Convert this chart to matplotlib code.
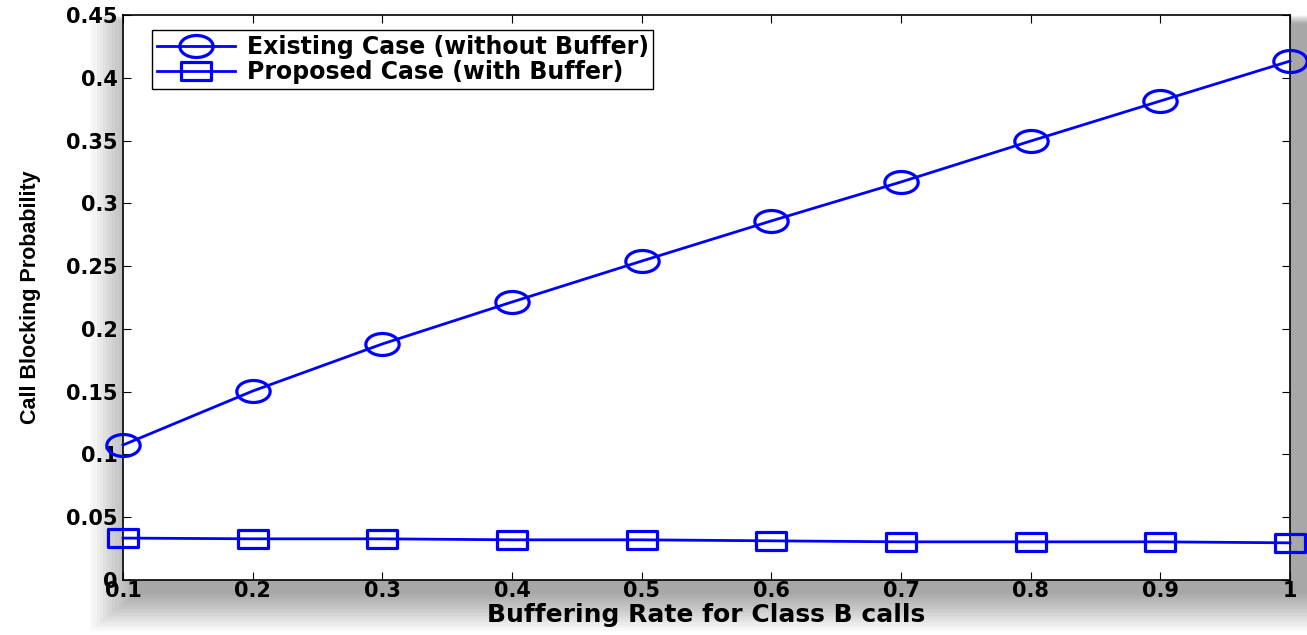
import numpy as np
import matplotlib.pyplot as plt
from matplotlib.path import Path
from matplotlib.patches import Rectangle

rate = [0.1, 0.2, 0.3, 0.4, 0.5, 0.6, 0.7, 0.8, 0.9, 1.0]
existing = [0.1075, 0.1505, 0.188, 0.2214, 0.254, 0.286, 0.317, 0.3496, 0.3815, 0.4133]
proposed = [0.0334, 0.0328, 0.0328, 0.0320, 0.0320, 0.0312, 0.0304, 0.0304, 0.0304, 0.0296]
xticks = [0.1, 0.2, 0.3, 0.4, 0.5, 0.6, 0.7, 0.8, 0.9, 1]
xticklabels = ['0.1', '0.2', '0.3', '0.4', '0.5', '0.6', '0.7', '0.8', '0.9', '1']
yticks = [0, 0.05, 0.1, 0.15, 0.2, 0.25, 0.3, 0.35, 0.4, 0.45]
yticklabels = ['0', '0.05', '0.1', '0.15', '0.2', '0.25', '0.3', '0.35', '0.4', '0.45']

plt.rcParams['font.family'] = ['DejaVu Sans']

# stretched markers (the original picture is stretched horizontally)
circ = Path.unit_circle()
ell = Path(circ.vertices * [1.0, 0.66], circ.codes)
sq = Path([(-1, -0.6), (1, -0.6), (1, 0.6), (-1, 0.6), (-1, -0.6)],
          [Path.MOVETO, Path.LINETO, Path.LINETO, Path.LINETO, Path.CLOSEPOLY])

fig = plt.figure(figsize=(13.07, 6.35), dpi=100)
fig.patch.set_facecolor('white')
ax = fig.add_axes([0.0941, 0.0866, 0.8929, 0.8898])

# soft drop shadow behind the axes
for i in range(16):
    off = i * 0.003
    fig.patches.append(Rectangle((0.0941 - 0.025 + off * 0.8, 0.0866 - 0.08 + off * 1.3),
                                 0.8929 + 0.05 - off * 1.0, 0.8898 + 0.08 - off * 1.6,
                                 transform=fig.transFigure, facecolor='black',
                                 alpha=0.022, edgecolor='none', zorder=-1))

ax.plot(rate, existing, color='blue', lw=2, marker=ell, ms=24, clip_on=False,
        mfc='none', mec='blue', mew=2.3, label='Existing Case (without Buffer)', zorder=5)
ax.plot(rate, proposed, color='blue', lw=2, marker=sq, ms=22, clip_on=False,
        mfc='none', mec='blue', mew=2.3, label='Proposed Case (with Buffer)', zorder=5)

ax.set_xlim(0.1, 1)
ax.set_ylim(0, 0.45)
ax.set_xticks(xticks)
ax.set_xticklabels(xticklabels, fontsize=15, fontweight='bold')
ax.set_yticks(yticks)
ax.set_yticklabels(yticklabels, fontsize=15, fontweight='bold')
ax.tick_params(direction='in', top=True, right=True, length=6, width=0.8, pad=4)
ax.tick_params(axis='x', pad=1)
for s in ax.spines.values():
    s.set_linewidth(1.2)

ax.set_xlabel('Buffering Rate for Class B calls', fontsize=18, fontweight='bold', labelpad=1)
ax.set_ylabel('Call Blocking Probability', fontsize=15.5, fontweight='bold',
              family=['Liberation Sans', 'DejaVu Sans'], labelpad=18)

leg = ax.legend(loc='upper left', bbox_to_anchor=(0.025, 0.973),
                prop={'weight': 'bold', 'size': 17}, fancybox=False, framealpha=1,
                edgecolor='black', handlelength=3.3, borderpad=0.2, labelspacing=0.05,
                borderaxespad=0, handletextpad=0.5)
leg.get_frame().set_linewidth(1.0)

fig.savefig('out.png', dpi=100)
